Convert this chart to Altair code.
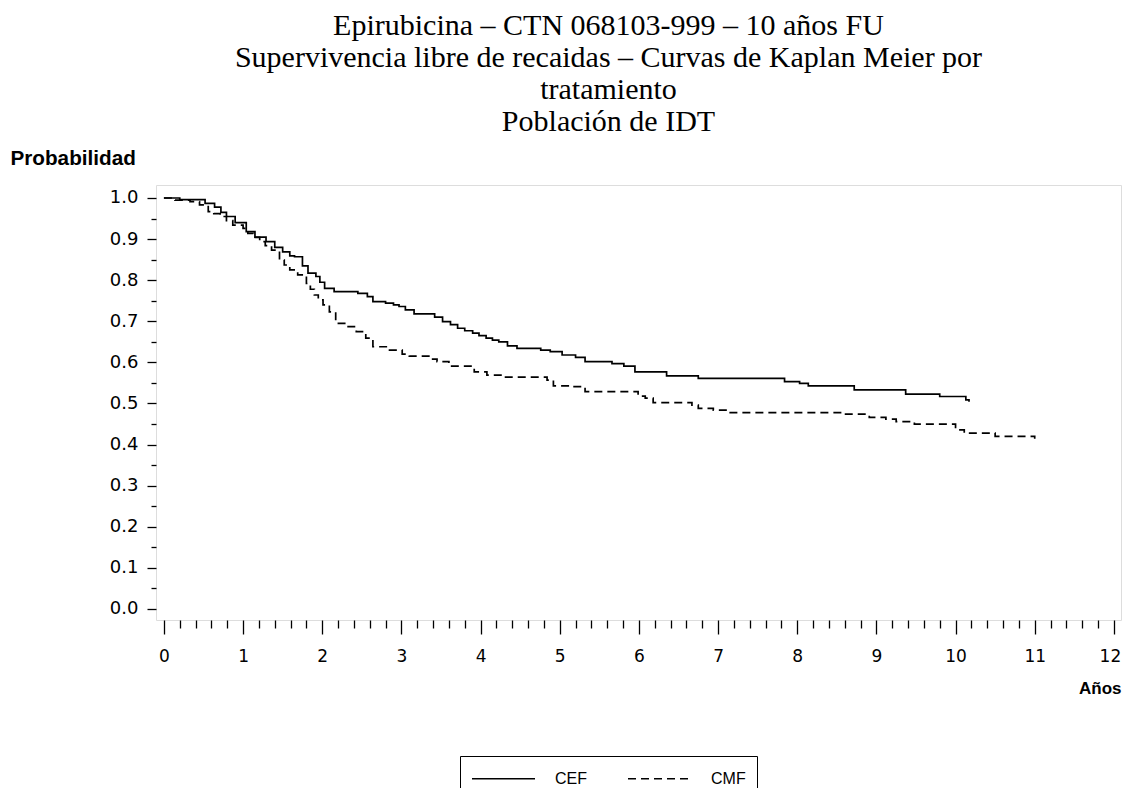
import altair as alt
import pandas as pd

# Kaplan-Meier estimates (time in years, survival probability)
cef_t = [0, 0.20, 0.52, 0.64, 0.72, 0.79, 0.90, 1.04, 1.15, 1.29,
         1.40, 1.50, 1.59, 1.65, 1.75, 1.82, 1.92, 1.97, 2.03, 2.15,
         2.45, 2.57, 2.64, 2.80, 2.90, 2.97, 3.05, 3.16, 3.42, 3.52,
         3.62, 3.71, 3.80, 3.90, 3.98, 4.07, 4.15, 4.23, 4.34, 4.46,
         4.76, 4.88, 5.03, 5.20, 5.32, 5.66, 5.81, 5.95, 6.35, 6.75,
         7.84, 8.03, 8.14, 8.72, 9.37, 9.80, 10.13, 10.17]
cef_s = [1.000, 0.996, 0.987, 0.978, 0.965, 0.955, 0.940, 0.918, 0.905, 0.894,
         0.880, 0.869, 0.859, 0.857, 0.835, 0.817, 0.809, 0.795, 0.780, 0.772,
         0.768, 0.760, 0.748, 0.744, 0.740, 0.736, 0.728, 0.718, 0.710, 0.699,
         0.692, 0.683, 0.677, 0.671, 0.665, 0.659, 0.654, 0.650, 0.640, 0.634,
         0.630, 0.626, 0.618, 0.612, 0.602, 0.597, 0.591, 0.577, 0.567, 0.561,
         0.553, 0.549, 0.543, 0.533, 0.523, 0.517, 0.509, 0.504]

cmf_t = [0, 0.14, 0.33, 0.45, 0.56, 0.63, 0.71, 0.79, 0.87, 1.00,
         1.06, 1.13, 1.21, 1.28, 1.36, 1.46, 1.52, 1.59, 1.69, 1.80,
         1.85, 1.90, 1.95, 2.01, 2.09, 2.17, 2.30, 2.43, 2.55, 2.64,
         2.85, 3.01, 3.10, 3.37, 3.45, 3.60, 3.92, 4.08, 4.27, 4.84,
         4.92, 5.15, 5.32, 5.99, 6.08, 6.18, 6.67, 6.75, 6.94, 7.13,
         8.60, 8.91, 9.12, 9.25, 9.48, 10.00, 10.11, 10.50, 11.00]
cmf_s = [1.000, 0.995, 0.991, 0.983, 0.967, 0.962, 0.955, 0.945, 0.934, 0.926,
         0.914, 0.904, 0.894, 0.884, 0.873, 0.849, 0.837, 0.825, 0.813, 0.792,
         0.778, 0.764, 0.752, 0.740, 0.723, 0.695, 0.687, 0.675, 0.659, 0.638,
         0.630, 0.620, 0.615, 0.608, 0.602, 0.591, 0.577, 0.569, 0.564, 0.557,
         0.543, 0.541, 0.529, 0.518, 0.513, 0.502, 0.496, 0.488, 0.484, 0.478,
         0.474, 0.466, 0.462, 0.456, 0.450, 0.436, 0.428, 0.420, 0.414]

treatments = ["CEF", "CMF"]
x_tick_values = [round(i * 0.2, 1) for i in range(61)]
y_tick_values = [round(i * 0.05, 2) for i in range(21)]

title_lines = [
    "Epirubicina \u2013 CTN 068103-999 \u2013 10 a\u00f1os FU",
    "Supervivencia libre de recaidas \u2013 Curvas de Kaplan Meier por",
    "tratamiento",
    "Poblaci\u00f3n de IDT",
]

df = pd.concat([
    pd.DataFrame({"t": cef_t, "s": cef_s, "trt": treatments[0]}),
    pd.DataFrame({"t": cmf_t, "s": cmf_s, "trt": treatments[1]}),
], ignore_index=True)

tick_font = "DejaVu Sans"
is_int = "abs(datum.value - round(datum.value)) < 0.001"

x_axis = alt.Axis(
    values=x_tick_values,
    labelExpr=is_int + " ? format(datum.value, 'd') : ''",
    tickSize={"condition": {"test": is_int, "value": 14}, "value": 8},
    labelOffset={"condition": {"test": "datum.value > 11.5", "value": -4}, "value": 0},
    tickColor="black", tickWidth=1.3,
    labelFont=tick_font, labelFontSize=17, labelColor="black", labelPadding=14,
    labelOverlap=False, labelFlush=False, domain=False, grid=False,
    title="A\u00f1os", titleFont="Liberation Sans", titleFontSize=17, titleFontWeight="bold",
    titleColor="black", titleAnchor="end", titleAlign="right", titleBaseline="middle",
    titleX=965, titleY=68,
)
y_axis = alt.Axis(
    values=y_tick_values,
    labelExpr="round(datum.value * 100) % 10 === 0 ? format(datum.value, '.1f') : ''",
    tickSize={"condition": {"test": "round(datum.value * 100) % 10 === 0", "value": 9}, "value": 5},
    tickColor="black", tickWidth=1.3,
    labelFont=tick_font, labelFontSize=18, labelColor="black", labelPadding=9,
    labelOverlap=False, labelFlush=False, domain=False, grid=False,
    title="Probabilidad", titleFont="Liberation Sans", titleFontSize=20.7, titleFontWeight="bold",
    titleColor="black", titleAngle=0, titleAlign="left", titleBaseline="middle",
    titleX=-146, titleY=-27,
)

chart = alt.Chart(df).mark_line(interpolate="step-after", color="black", strokeWidth=1.7).encode(
    x=alt.X("t:Q", scale=alt.Scale(domain=[-0.1, 12.09], nice=False, zero=False), axis=x_axis),
    y=alt.Y("s:Q", scale=alt.Scale(domain=[-0.0268, 1.0316], nice=False, zero=False), axis=y_axis),
    strokeDash=alt.StrokeDash(
        "trt:N",
        scale=alt.Scale(domain=treatments, range=[[1, 0], [8, 5]]),
        legend=alt.Legend(
            orient="none", legendX=304, legendY=571, direction="horizontal", title=None,
            strokeColor="black", padding=11, symbolType="M-1,0H5", symbolSize=441,
            symbolStrokeColor="black", symbolStrokeWidth=1.6, symbolFillColor="transparent",
            labelFont="Liberation Sans", labelFontSize=16, labelColor="black",
            labelOffset=61, columnPadding=37,
            labelExpr="datum.label == 'CMF' ? datum.label + '\u00a0\u00a0' : datum.label",
        ),
    ),
    detail="trt:N",
).properties(
    width=965,
    height=435,
    title=alt.TitleParams(
        text=title_lines, font="Liberation Serif", fontSize=30, fontWeight="normal",
        lineHeight=32, color="black", anchor="middle", dx=-30, offset=10,
    ),
    autosize=alt.AutoSizeParams(type="none"),
    padding={"left": 148, "top": 177, "right": 1, "bottom": 168},
).configure_view(stroke="black", strokeWidth=1.5).configure(background="white")

chart.save("out.html", embed_options={"renderer": "svg", "actions": False})
